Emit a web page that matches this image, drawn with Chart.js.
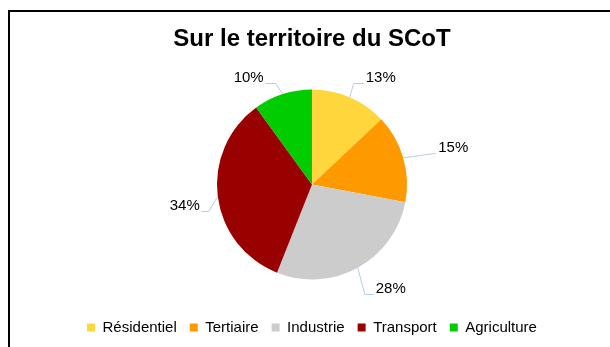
<!DOCTYPE html>
<html lang="fr">
<head>
<meta charset="utf-8">
<title>Sur le territoire du SCoT</title>
<script src="https://cdn.jsdelivr.net/npm/chart.js@4.4.1/dist/chart.umd.min.js"></script>
<style>
    html, body { margin: 0; padding: 0; background: #fff; overflow: hidden; }
    #frame { position: absolute; left: 8px; top: 10px; width: 600px; height: 335px; border-left: 2px solid #000; border-top: 2px solid #000; }
    #pie { position: absolute; left: 0; top: 0; }
</style>
</head>
<body>
<div id="frame"></div>
<canvas id="pie" width="610" height="347"></canvas>
<script>
const secteurs = ["Résidentiel", "Tertiaire", "Industrie", "Transport", "Agriculture"];
const parts = [13, 15, 28, 34, 10];
const couleurs = ["#FFD73D", "#FF9900", "#CCCCCC", "#990000", "#00CC00"];

// position of each % label relative to the slice edge, and length of the flat part of its leader
const decalages = [[31, -19], [50, -10], [33, 21], [-33, 10], [-34, -16]];
const paliers = [10, 2, 9, 7, 10];

const police = "'Liberation Sans', Arial, sans-serif";

document.addEventListener("DOMContentLoaded", function () {
    let etiquettes = {
        id: "etiquettes",
        afterDatasetsDraw(chart) {
            let ctx = chart.ctx,
                meta = chart.getDatasetMeta(0);
            ctx.save();
            ctx.font = "15px " + police;
            ctx.textAlign = "center";
            ctx.textBaseline = "middle";
            meta.data.forEach((arc, i) => {
                let p = arc.getProps(["x", "y", "startAngle", "endAngle", "outerRadius"], true),
                    mid = (p.startAngle + p.endAngle) / 2,
                    ax = p.x + Math.cos(mid) * p.outerRadius,
                    ay = p.y + Math.sin(mid) * p.outerRadius,
                    tx = ax + decalages[i][0],
                    ty = ay + decalages[i][1],
                    txt = parts[i] + "%",
                    w = ctx.measureText(txt).width,
                    droite = decalages[i][0] > 0,
                    bord = droite ? tx - w / 2 - 2 : tx + w / 2 + 2,
                    coude = droite ? bord - paliers[i] : bord + paliers[i],
                    ly = Math.round(ty + 5) + 0.5;
                ctx.strokeStyle = "#B4CCE8";
                ctx.lineWidth = 1;
                ctx.beginPath();
                ctx.moveTo(ax, ay);
                ctx.lineTo(coude, ly);
                ctx.lineTo(bord, ly);
                ctx.stroke();
                ctx.fillStyle = "#000";
                ctx.fillText(txt, tx, ty);
            });
            ctx.restore();
        }
    };

    let c = document.getElementById("pie").getContext("2d");
    new Chart(c, {
        type: "pie",
        data: {
            labels: secteurs,
            datasets: [{ data: parts, backgroundColor: couleurs, borderWidth: 0, radius: 95 }]
        },
        options: {
            responsive: false,
            animation: false,
            devicePixelRatio: 1,
            layout: { padding: { left: 14, right: 0, top: 0, bottom: 2 } },
            plugins: {
                title: {
                    display: true,
                    text: "Sur le territoire du SCoT",
                    color: "#000",
                    font: { family: police, size: 24, weight: "bold" },
                    padding: { top: 25, bottom: 8 }
                },
                legend: {
                    position: "bottom",
                    labels: { boxWidth: 8, boxHeight: 8, padding: 13, color: "#000", font: { family: police, size: 15 } }
                },
                tooltip: { enabled: false }
            }
        },
        plugins: [etiquettes]
    });
});
</script>
</body>
</html>
